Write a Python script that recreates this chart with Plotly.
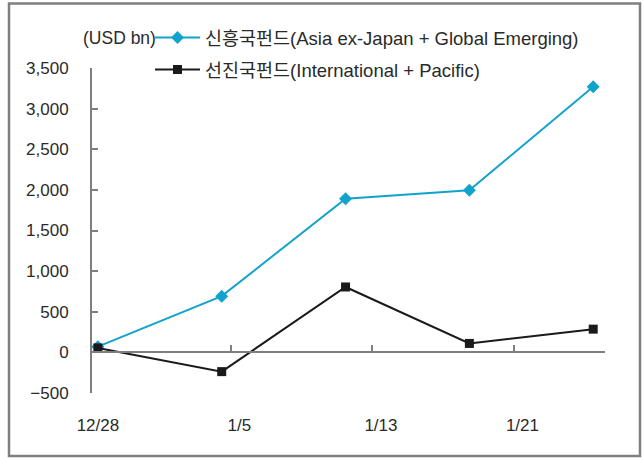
import plotly.graph_objects as go

# Weekly net fund flows (USD bn)
dates = ["2009-12-28", "2010-01-04", "2010-01-11", "2010-01-18", "2010-01-25"]
emerging = [70, 692, 1892, 1995, 3270]
developed = [55, -237, 805, 110, 286]
emerging_name = "신흥국펀드(Asia ex-Japan + Global Emerging)"
developed_name = "선진국펀드(International + Pacific)"

date_ticks = ["2009-12-28", "2010-01-05", "2010-01-13", "2010-01-21"]
tick_marks = ["2010-01-04 12:00", "2010-01-12 12:00", "2010-01-20 12:00"]

W, H = 643, 459
ML, MR, MT, MB = 92, 38, 68, 66
FONT = "Liberation Sans, Noto Sans CJK KR, sans-serif"
TXT = "#2a2a2a"
AXC = "#7f7f7f"
BLUE = "#12a3cc"
BLACK = "#1a1a1a"

x_range = ["2009-12-27 16:00", "2010-01-25 16:00"]
y_min, y_max = -500, 3500

# paper-coordinate helpers for items placed outside the plot area
pw, ph = W - ML - MR, H - MT - MB
def px_to_paper_x(px):
    return (px - ML) / pw
def px_to_paper_y(py):
    return (H - MB - py) / ph

fig = go.Figure()
# invisible carrier trace so the zero-line axis (x2) gets drawn
fig.add_trace(go.Scatter(
    x=dates, y=[None] * len(dates), xaxis="x2", mode="lines",
    showlegend=False, hoverinfo="skip",
))
fig.add_trace(go.Scatter(
    x=dates, y=emerging, name=emerging_name, mode="lines+markers",
    line=dict(color=BLUE, width=2),
    marker=dict(symbol="diamond", size=10, color=BLUE),
    legend="legend",
))
fig.add_trace(go.Scatter(
    x=dates, y=developed, name=developed_name, mode="lines+markers",
    line=dict(color=BLACK, width=2),
    marker=dict(symbol="square", size=9, color=BLACK),
    legend="legend2",
))

legend_font = dict(size=18.5, color=TXT)

fig.update_layout(
    width=W, height=H,
    margin=dict(l=ML, r=MR, t=MT, b=MB, autoexpand=False),
    paper_bgcolor="white", plot_bgcolor="white",
    font=dict(family=FONT, size=17, color=TXT),
    xaxis=dict(
        type="date", range=x_range,
        tickvals=date_ticks, tickformat="%-m/%-d", tickangle=0,
        showline=False, showgrid=False, zeroline=False, ticks="",
        ticklabelstandoff=20,
        tickfont=dict(size=17, color=TXT),
    ),
    xaxis2=dict(
        type="date", overlaying="x", range=x_range,
        anchor="free", position=(0 - y_min) / (y_max - y_min),
        tickvals=tick_marks, showticklabels=False,
        showline=True, linecolor=AXC, linewidth=2,
        ticks="inside", ticklen=6, tickcolor=AXC, tickwidth=2,
        showgrid=False, zeroline=False,
    ),
    yaxis=dict(
        range=[y_min, y_max], dtick=500, tickformat=",",
        showline=True, linecolor=AXC, linewidth=2,
        ticks="inside", ticklen=6, tickcolor=AXC, tickwidth=2,
        showgrid=False, zeroline=False,
        ticklabelstandoff=18,
        tickfont=dict(size=17, color=TXT),
    ),
    legend=dict(
        x=px_to_paper_x(150), y=px_to_paper_y(38), xanchor="left", yanchor="middle",
        bgcolor="rgba(0,0,0,0)", borderwidth=0, itemwidth=45,
        font=legend_font,
    ),
    legend2=dict(
        x=px_to_paper_x(150), y=px_to_paper_y(70), xanchor="left", yanchor="middle",
        bgcolor="rgba(0,0,0,0)", borderwidth=0, itemwidth=45,
        font=legend_font,
    ),
    showlegend=True,
)

fig.add_annotation(
    text="(USD bn)", xref="paper", yref="paper",
    x=px_to_paper_x(158), y=px_to_paper_y(38),
    xanchor="right", yanchor="middle", showarrow=False,
    font=dict(size=17.5, color=TXT),
)

fig.add_shape(
    type="rect", xref="paper", yref="paper",
    x0=px_to_paper_x(9), x1=px_to_paper_x(640),
    y0=px_to_paper_y(456), y1=px_to_paper_y(3.5),
    line=dict(color=AXC, width=2.5), fillcolor="rgba(0,0,0,0)", layer="below",
)

fig.write_html("out.html")
